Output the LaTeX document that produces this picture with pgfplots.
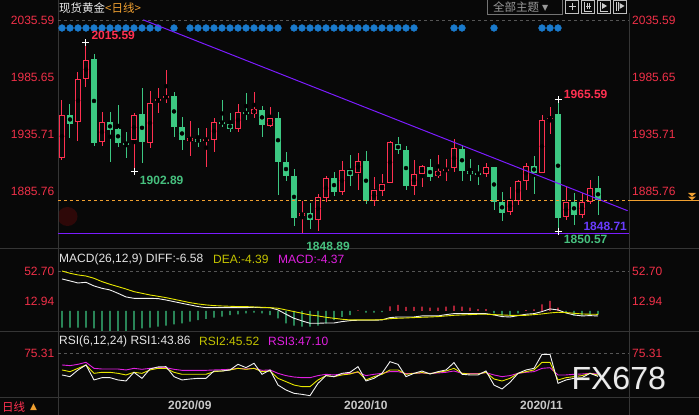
\documentclass[border=0pt]{standalone}
\usepackage{pgfplots}
\pgfplotsset{compat=1.18}
\usepackage{pgfplotstable}
\usepackage{fontspec}
\setmainfont{Liberation Sans}
\newfontfamily\cjk{Noto Sans CJK SC}
\newfontfamily\djv{DejaVu Sans}

\definecolor{bg}{HTML}{080808}
\definecolor{upred}{HTML}{FF3050}
\definecolor{dngreen}{HTML}{3CC882}
\definecolor{lblgreen}{HTML}{46C07E}
\definecolor{trend}{HTML}{7B1CFF}
\definecolor{lvlblue}{HTML}{6A3CFF}
\definecolor{dotblue}{HTML}{1A7ACC}
\definecolor{orng}{HTML}{F0A030}
\definecolor{sep}{HTML}{353535}
\definecolor{gridc}{HTML}{555555}
\definecolor{axred}{HTML}{F03048}
\definecolor{ylw}{HTML}{E6E600}
\definecolor{mag}{HTML}{E020E0}
\definecolor{wht}{HTML}{F2F2F2}
\definecolor{blob}{HTML}{2E0808}

% daily OHLC, index 0 = first bar shown
\pgfplotstableread{
i o h l c
0 1915.0 1965.8 1913.0 1952.5
1 1952.7 1962.3 1931.9 1944.3
2 1946.1 1990.2 1929.5 1983.8
3 1983.8 2015.59 1976.5 2000.6
4 2001.5 2005.8 1925.2 1927.8
5 1929.0 1955.4 1925.2 1945.8
6 1945.8 1955.4 1911.3 1939.1
7 1939.7 1961.4 1924.3 1927.8
8 1927.6 1937.1 1914.8 1927.2
9 1930.7 1954.5 1902.89 1952.5
10 1953.6 1976.0 1910.4 1928.7
11 1927.8 1973.3 1923.5 1962.9
12 1964.3 1976.0 1953.9 1966.4
13 1967.0 1991.9 1963.2 1969.0
14 1969.3 1972.8 1933.0 1941.7
15 1942.0 1951.0 1921.7 1930.4
16 1929.8 1946.7 1916.5 1932.4
17 1931.3 1941.4 1924.3 1928.7
18 1930.6 1940.6 1907.0 1931.0
19 1930.7 1949.8 1920.0 1945.8
20 1945.9 1965.8 1941.7 1945.6
21 1944.9 1954.5 1937.4 1940.0
22 1940.3 1962.3 1937.4 1955.4
23 1955.4 1971.9 1948.4 1953.0
24 1953.0 1972.8 1949.6 1957.7
25 1957.1 1960.6 1933.0 1943.5
26 1942.6 1959.7 1942.0 1949.3
27 1949.3 1955.4 1882.6 1911.3
28 1911.0 1919.7 1894.7 1899.1
29 1898.8 1904.9 1855.6 1862.6
30 1863.7 1877.0 1848.89 1866.6
31 1866.6 1875.3 1852.7 1860.8
32 1860.8 1882.9 1850.5 1880.2
33 1880.0 1899.1 1876.0 1896.8
34 1896.8 1902.3 1881.7 1885.2
35 1885.2 1911.9 1882.6 1904.6
36 1904.6 1917.1 1890.4 1898.8
37 1901.7 1918.8 1886.9 1912.4
38 1912.4 1920.6 1874.7 1877.3
39 1877.3 1898.0 1873.0 1886.3
40 1886.0 1900.5 1881.7 1892.4
41 1893.0 1929.8 1893.0 1929.0
42 1927.2 1932.7 1918.0 1921.4
43 1921.4 1924.9 1886.9 1890.4
44 1890.4 1912.7 1882.6 1900.3
45 1900.8 1908.4 1889.5 1907.5
46 1906.6 1913.6 1894.2 1898.2
47 1899.1 1917.7 1897.0 1903.2
48 1903.4 1913.6 1894.5 1905.5
49 1906.0 1931.0 1902.9 1923.2
50 1922.3 1925.2 1894.7 1903.2
51 1903.2 1913.6 1894.7 1900.8
52 1901.2 1908.4 1891.3 1901.0
53 1900.8 1910.7 1898.5 1906.6
54 1906.6 1906.6 1869.5 1876.5
55 1876.2 1884.9 1860.0 1866.9
56 1867.8 1889.2 1865.2 1877.6
57 1877.4 1895.6 1873.9 1894.5
58 1894.7 1910.1 1886.9 1908.1
59 1908.1 1916.5 1883.4 1901.4
60 1901.7 1952.7 1901.7 1948.1
61 1949.0 1959.7 1935.6 1949.8
62 1953.6 1965.59 1850.57 1862.3
63 1862.8 1889.5 1860.5 1876.2
64 1876.2 1884.3 1856.5 1865.2
65 1865.2 1884.3 1862.6 1876.2
66 1875.9 1895.9 1874.2 1888.4
67 1888.4 1898.8 1865.2 1877.6
}\ohlc

% blue signal dots along the top
\pgfplotstableread{
i y
0 2028.5
1 2028.5
2 2028.5
3 2028.5
4 2028.5
5 2028.5
6 2028.5
7 2028.5
8 2028.5
9 2028.5
10 2028.5
11 2028.5
12 2028.5
14 2028.5
16 2028.5
17 2028.5
18 2028.5
19 2028.5
20 2028.5
21 2028.5
22 2028.5
23 2028.5
24 2028.5
25 2028.5
26 2028.5
27 2028.5
29 2028.5
30 2028.5
31 2028.5
32 2028.5
33 2028.5
34 2028.5
35 2028.5
36 2028.5
37 2028.5
38 2028.5
39 2028.5
40 2028.5
41 2028.5
42 2028.5
43 2028.5
44 2028.5
49 2028.5
50 2028.5
54 2028.5
60 2028.5
61 2028.5
62 2028.5
}\signal

\pgfplotstableread{
i diff dea macd
0 42.2 52.7 -22
1 39.6 49.7 -22
2 36.9 47.5 -22
3 37.8 46.1 -22
4 33.0 43.1 -23
5 29.9 38.7 -26.3
6 27.7 35.2 -26.3
7 23.3 32.1 -26.3
8 18.5 29.0 -26.3
9 16.7 25.5 -25
10 16.7 23.3 -22.8
11 16.7 21.1 -22
12 16.3 19.4 -20.6
13 14.5 17.6 -19.3
14 12.3 15.4 -17.6
15 10.1 13.2 -16.2
16 8.0 11.0 -14
17 5.8 9.3 -11.9
18 4.4 8.0 -10.5
19 4.4 7.1 -8.8
20 4.4 6.6 -7.5
21 4.4 6.2 -5.3
22 4.4 5.8 -4.4
23 4.4 5.8 -3.1
24 4.9 5.3 -2.2
25 4.4 4.9 -3.1
26 4.4 4.4 -5.3
27 1.4 3.6 -9.7
28 -4.3 1.4 -16.2
29 -9.6 -0.8 -19.3
30 -13.1 -3.0 -20.6
31 -16.2 -5.2 -20.6
32 -16.2 -6.5 -19.3
33 -15.8 -8.3 -16.2
34 -15.8 -9.6 -11.9
35 -14.0 -10.9 -7.9
36 -12.7 -11.8 -5.3
37 -12.2 -11.8 0.9
38 -12.2 -11.8 -2.2
39 -12.2 -11.8 -2.0
40 -11.8 -11.4 -1.5
41 -8.7 -10.1 6
42 -7.9 -9.6 8
43 -7.9 -9.2 5.3
44 -7.9 -8.7 5.3
45 -6.5 -8.3 5.7
46 -6.5 -7.9 4.4
47 -6.5 -7.4 4.4
48 -4.8 -6.5 5.7
49 -3.5 -5.7 7
50 -3.5 -5.2 5.7
51 -3.5 -4.8 4.4
52 -3.5 -4.3 2.6
53 -3.5 -4.3 2.6
54 -5.2 -4.8 -3
55 -7.4 -5.2 -6.1
56 -7.9 -5.7 -6.1
57 -6.1 -5.7 -3
58 -4.3 -5.7 1
59 -3.5 -4.8 2
60 -0.8 -3.9 8.8
61 2.7 -2.6 13.2
62 1.4 -1.7 4.4
63 -2.6 -2.1 -1.8
64 -5.2 -3.0 -6.1
65 -6.5 -3.9 -6.1
66 -6.1 -4.3 -5.3
67 -6.58 -4.39 -4.37
}\macd

\pgfplotstableread{
i r1 r2 r3
0 45.8 52.6 59.4
1 43.5 50.3 58.5
2 52.6 54.8 60.3
3 59.4 59.4 63.0
4 39.0 48.0 54.8
5 42.1 49.4 53.9
6 42.1 49.4 53.9
7 39.0 48.0 53.9
8 37.6 45.8 52.6
9 49.4 49.4 54.8
10 41.2 48.0 53.5
11 54.0 52.6 54.8
12 56.7 54.8 55.7
13 57.1 54.8 55.7
14 43.5 49.4 53.5
15 39.0 46.7 52.1
16 40.3 46.7 52.1
17 41.2 46.7 52.1
18 41.2 46.7 52.1
19 51.2 50.3 52.6
20 51.2 51.2 53.0
21 52.6 52.6 53.5
22 60.3 54.8 54.8
23 55.8 53.5 53.9
24 61.7 54.8 54.8
25 46.7 50.3 52.1
26 52.6 51.2 52.6
27 32.1 41.2 48.0
28 25.3 36.7 44.9
29 20.8 32.1 43.0
30 19.4 29.9 42.1
31 17.6 29.9 42.1
32 34.4 39.0 44.9
33 44.9 44.9 46.7
34 43.5 43.5 45.8
35 48.0 45.8 47.1
36 49.4 47.1 48.0
37 57.1 50.3 49.4
38 37.6 39.0 44.9
39 41.2 43.5 46.7
40 48.0 46.7 48.0
41 63.9 52.6 50.3
42 60.3 52.6 50.3
43 43.5 46.7 47.6
44 48.0 48.0 48.0
45 51.2 49.0 48.5
46 47.1 47.6 48.0
47 50.3 49.4 48.5
48 52.6 51.2 49.4
49 62.6 54.8 51.2
50 46.7 48.0 48.0
51 45.8 47.1 47.6
52 45.8 47.1 47.6
53 51.2 49.4 49.0
54 32.1 40.3 45.8
55 26.7 37.6 43.5
56 35.8 41.2 44.9
57 48.0 48.0 48.0
58 52.6 50.3 49.4
59 54.8 52.6 50.3
60 73.9 63.0 54.8
61 73.9 63.0 55.7
62 34.4 39.0 45.8
63 39.0 42.1 45.8
64 41.2 43.5 46.7
65 42.1 44.9 47.1
66 48.0 48.0 48.0
67 43.86 45.52 47.10
}\rsi

\pgfplotsset{
  panel/.style={
    scale only axis, width=571pt, anchor=south west,
    xmin=-0.5, xmax=70.875, xtick=\empty,
    axis line style={draw=none}, tick style={draw=none},
    clip mode=individual,
    yticklabel style={font=\fontsize{12}{14}\selectfont, text=axred, inner sep=0pt, xshift=-3.5pt},
  },
  candle/.style={only marks, mark=none, forget plot,
    error bars/.cd, y dir=both, y explicit, error mark=none},
}
\tikzset{
  rlab/.style={anchor=west, inner sep=0pt, xshift=3pt, text=axred, font=\fontsize{12}{14}\selectfont},
  blab/.style={inner sep=0pt, font=\bfseries\fontsize{12}{14}\selectfont},
}

\begin{document}
\begin{tikzpicture}[x=1pt,y=1pt]
\useasboundingbox (0,0) rectangle (699,415);
\fill[bg] (0,0) rectangle (699,415);
\begin{scope}
  \clip (58.5,180) rectangle (90,215);
  \fill[blob] (67.5,198.5) ellipse (10 and 9.5);
\end{scope}

% panel frame
\draw[sep, line width=1pt] (0,166) -- (699,166);
\draw[sep, line width=1pt] (0,83) -- (699,83);
\draw[sep, line width=1pt] (0,17.5) -- (699,17.5);
\draw[sep, line width=1pt] (58,0) -- (58,415);
\draw[sep, line width=1pt] (629,0) -- (629,402);

% ---------------- price panel ----------------
\begin{axis}[panel, at={(58pt,166pt)}, height=235pt,
  ymin=1835.1, ymax=2040.75,
  ytick={1885.76,1935.71,1985.65,2035.59},
  yticklabels={1885.76,1935.71,1985.65,2035.59}]
\draw[gridc, dash pattern=on 3pt off 3pt] (axis cs:-0.5,2035.59) -- (axis cs:70.875,2035.59);

% rising bars: red, hollow
\addplot[candle, error bar style={line width=1pt, draw=upred}]
  table[x=i, y expr={\thisrow{c}>=\thisrow{o} ? 0.5*(\thisrow{h}+\thisrow{l}) : nan},
        y error expr={0.5*(\thisrow{h}-\thisrow{l})}] {\ohlc};
\addplot[candle, error bar style={line width=6.8pt, draw=upred}]
  table[x=i, y expr={\thisrow{c}>=\thisrow{o} ? 0.5*(\thisrow{o}+\thisrow{c}) : nan},
        y error expr={max(0.5*(\thisrow{c}-\thisrow{o}),0.55)}] {\ohlc};
\addplot[candle, error bar style={line width=4.8pt, draw=bg}]
  table[x=i, y expr={\thisrow{c}>=\thisrow{o} ? 0.5*(\thisrow{o}+\thisrow{c}) : nan},
        y error expr={max(0.5*(\thisrow{c}-\thisrow{o})-0.875,0)}] {\ohlc};
% falling bars: green, filled
\addplot[candle, error bar style={line width=1pt, draw=dngreen}]
  table[x=i, y expr={\thisrow{c}<\thisrow{o} ? 0.5*(\thisrow{h}+\thisrow{l}) : nan},
        y error expr={0.5*(\thisrow{h}-\thisrow{l})}] {\ohlc};
\addplot[candle, error bar style={line width=6.8pt, draw=dngreen}]
  table[x=i, y expr={\thisrow{c}<\thisrow{o} ? 0.5*(\thisrow{o}+\thisrow{c}) : nan},
        y error expr={max(0.5*(\thisrow{o}-\thisrow{c}),0.55)}] {\ohlc};

\addplot[only marks, mark=*, mark size=3.4pt, draw=dotblue, fill=dotblue] table[x=i, y=y] {\signal};

\addplot[trend, line width=1pt] coordinates {(10.16,2035.59) (70.7,1868.6)};
\addplot[trend, line width=1.3pt] coordinates {(-0.5,1848.8) (70.875,1848.8)};
\addplot[orng, line width=0.9pt, dash pattern=on 3pt off 3pt] coordinates {(-0.5,1877.6) (70.875,1877.6)};
\addplot[only marks, mark=+, mark size=3.5pt, white, line width=1pt]
  coordinates {(3,2015.59) (9,1902.89) (62,1965.59) (62,1850.57)};

\node[blab, text=upred] at (axis cs:6.4,2022.4) {2015.59};
\node[blab, text=lblgreen] at (axis cs:12.46,1894.9) {1902.89};
\node[blab, text=lblgreen] at (axis cs:33.25,1837.0) {1848.89};
\node[blab, text=upred] at (axis cs:65.46,1970.75) {1965.59};
\node[blab, text=lblgreen] at (axis cs:65.46,1843.6) {1850.57};
\node[blab, text=lvlblue] at (axis cs:67.9,1854.6) {1848.71};

\node[rlab] at (axis cs:70.875,1885.76) {1885.76};
\node[rlab] at (axis cs:70.875,1935.71) {1935.71};
\node[rlab] at (axis cs:70.875,1985.65) {1985.65};
\node[rlab] at (axis cs:70.875,2035.59) {2035.59};
\end{axis}

% ---------------- MACD panel ----------------
\begin{axis}[panel, at={(58pt,83pt)}, height=83pt,
  ymin=-27.7, ymax=81.7,
  ytick={12.94,52.70}, yticklabels={12.94,52.70}]
\draw[gridc, dash pattern=on 3pt off 3pt] (axis cs:-0.5,52.70) -- (axis cs:70.875,52.70);
\addplot[ybar, bar shift=0pt, bar width=1.1pt, fill=upred, draw=none]
  table[x=i, y expr={\thisrow{macd}>0 ? \thisrow{macd} : nan}] {\macd};
\addplot[ybar, bar shift=0pt, bar width=1.1pt, fill=dngreen, draw=none]
  table[x=i, y expr={\thisrow{macd}<0 ? \thisrow{macd} : nan}] {\macd};
\addplot[wht, line width=0.9pt] table[x=i, y=diff] {\macd};
\addplot[ylw, line width=0.9pt] table[x=i, y=dea] {\macd};
\node[rlab] at (axis cs:70.875,52.70) {52.70};
\node[rlab] at (axis cs:70.875,12.94) {12.94};
\end{axis}

% ---------------- RSI panel ----------------
\begin{axis}[panel, at={(58pt,17.5pt)}, height=65.5pt,
  ymin=15.1, ymax=104.3,
  ytick={75.31}, yticklabels={75.31},
  xtick={13,35,57}, xticklabels={2020/09,2020/10,2020/11},
  xticklabel style={anchor=north west, inner sep=0pt, xshift=2pt, yshift=-3.5pt,
    text=black!22, font=\bfseries\fontsize{12}{14}\selectfont}]
\draw[gridc, dash pattern=on 3pt off 3pt] (axis cs:-0.5,75.31) -- (axis cs:70.875,75.31);
\addplot[mag, line width=0.9pt] table[x=i, y=r3] {\rsi};
\addplot[ylw, line width=0.9pt] table[x=i, y=r2] {\rsi};
\addplot[wht, line width=0.9pt] table[x=i, y=r1] {\rsi};
\node[rlab] at (axis cs:70.875,75.31) {75.31};
\end{axis}

% ---------------- texts and decorations ----------------
\node[anchor=west, inner sep=0pt, font=\cjk\fontsize{11.5}{13}\selectfont] at (59,406.5)
  {\textcolor{black!8}{现货黄金}\textcolor{orng}{<日线>}};
\node[anchor=west, inner sep=0pt, font=\fontsize{12}{14}\selectfont, text=black!10] at (59,156) {MACD(26,12,9) DIFF:-6.58};
\node[anchor=west, inner sep=0pt, font=\fontsize{12}{14}\selectfont, text=ylw!85!black] at (213,156) {DEA:-4.39};
\node[anchor=west, inner sep=0pt, font=\fontsize{12}{14}\selectfont, text=mag] at (278,156) {MACD:-4.37};
\node[anchor=west, inner sep=0pt, font=\fontsize{12}{14}\selectfont, text=black!10] at (59,74) {RSI(6,12,24) RSI1:43.86};
\node[anchor=west, inner sep=0pt, font=\fontsize{12}{14}\selectfont, text=ylw!85!black] at (199,74) {RSI2:45.52};
\node[anchor=west, inner sep=0pt, font=\fontsize{12}{14}\selectfont, text=mag] at (268,74) {RSI3:47.10};

\node[anchor=west, inner sep=0pt, font=\cjk\fontsize{11.5}{13}\selectfont, text=upred] at (2,7.5) {日线};
\node[anchor=west, inner sep=0pt, font=\djv\fontsize{9}{10}\selectfont, text=orng] at (30,7.5) {▲};

% top right buttons
\draw[black!55, line width=0.8pt] (487,416) -- (487,400.3) -- (562,400.3) -- (562,416);
\node[anchor=west, inner sep=0pt, font=\cjk\fontsize{11.5}{13}\selectfont, text=black!40] at (493,407.5) {全部主题};
\node[anchor=west, inner sep=0pt, font=\djv\fontsize{8}{9}\selectfont, text=black!40] at (542,407) {▼};
\foreach \bx in {565,581,597,613}{
  \draw[black!25, line width=0.8pt] (\bx,402) rectangle (\bx+13.5,414.5);
}
\draw[black!20, line width=0.9pt] (568.5,408.2) -- (575.5,408.2) (572,404.5) -- (572,412);
\draw[black!20, line width=0.9pt] (584,404) -- (584,413) (584,404) -- (592,404) (587,406) -- (587,412) (589.5,406) -- (589.5,412) (586,409) -- (591,409);
\draw[black!20, line width=0.9pt] (600,404) -- (600,413) (600,404) -- (608,404);
\fill[black!20] (602,406) -- (602,412) -- (607,409) -- cycle;
\draw[black!20, line width=0.9pt] (616,404) -- (616,413) (618,404) -- (618,413);
\fill[black!20] (619.5,406) -- (619.5,412) -- (624.5,409) -- cycle;

% current price marker on the right
\draw[orng, line width=1pt] (629,214.2) -- (699,214.2);
\fill[orng] (688,222) -- (696,222) -- (692,218.6) -- cycle;
\fill[orng] (688,218.4) -- (696,218.4) -- (692,215) -- cycle;

% watermark
\node[font=\fontsize{32}{34}\selectfont, text=black!85] at (619.5,36.3) {FX678};
\node[font=\fontsize{32}{34}\selectfont, text=black!8] at (618.7,37) {FX678};
\end{tikzpicture}
\end{document}
